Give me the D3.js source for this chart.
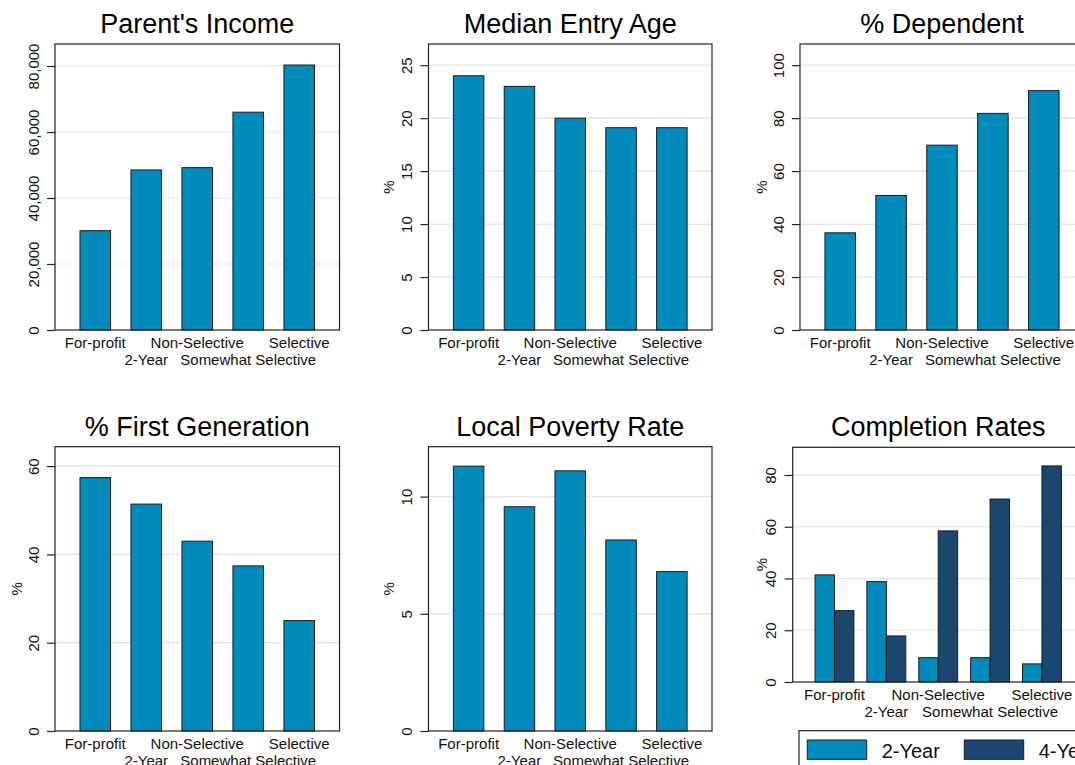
<!DOCTYPE html>
<html>
<head>
<meta charset="UTF-8">
<title>College characteristics by sector</title>
<script src="https://d3js.org/d3.v7.min.js"></script>
<style>
  body { margin: 0; background: #fff; }
  svg text { font-family: "Liberation Sans", Arial, Helvetica, sans-serif; fill: #111; }
</style>
</head>
<body>
<div id="chart"></div>
<script>

// categories on the x axis (labels alternate between two rows)
var categories = ["For-profit", "2-Year", "Non-Selective", "Somewhat Selective", "Selective"];

// values
var parentIncome = [30100, 48500, 49200, 66000, 80300];
var entryAge = [24, 23, 20, 19.1, 19.1];
var pctDependent = [36.7, 50.8, 69.8, 81.8, 90.4];
var pctFirstGen = [57.4, 51.4, 43.0, 37.4, 25.0];
var povertyRate = [11.3, 9.57, 11.1, 8.15, 6.8];
var completion2yr = [41.4, 38.8, 9.4, 9.4, 7.0];
var completion4yr = [27.6, 17.8, 58.4, 70.7, 83.5];

// tick labels
var incomeTicks = [0, 20000, 40000, 60000, 80000];
var ageTicks = [0, 5, 10, 15, 20, 25];
var dependentTicks = [0, 20, 40, 60, 80, 100];
var firstGenTicks = [0, 20, 40, 60];
var povertyTicks = [0, 5, 10];
var completionTicks = [0, 20, 40, 60, 80];

var seriesNames = ["2-Year", "4-Year"];
var seriesColors = ["#008bbc", "#1a476f"];

var panels = [
    { title: "Parent's Income", series: [parentIncome], ticks: incomeTicks, yMax: 86667, fmt: ",", yTitle: null,
      box: { left: 55, top: 44, width: 284.5, height: 286 } },
    { title: "Median Entry Age", series: [entryAge], ticks: ageTicks, yMax: 27, fmt: "d", yTitle: 35,
      box: { left: 428.5, top: 44, width: 283.5, height: 286 } },
    { title: "% Dependent", series: [pctDependent], ticks: dependentTicks, yMax: 108, fmt: "d", yTitle: 33,
      box: { left: 800, top: 44, width: 284, height: 286 } },
    { title: "% First Generation", series: [pctFirstGen], ticks: firstGenTicks, yMax: 64.4, fmt: "d", yTitle: 33,
      box: { left: 55, top: 446.7, width: 284.5, height: 284.3 } },
    { title: "Local Poverty Rate", series: [povertyRate], ticks: povertyTicks, yMax: 12.13, fmt: "d", yTitle: 35,
      box: { left: 428.5, top: 446.7, width: 283.5, height: 284.3 } },
    { title: "Completion Rates", series: [completion2yr, completion4yr], ticks: completionTicks, yMax: 90.7, fmt: "d", yTitle: 26,
      box: { left: 792.7, top: 447.3, width: 291, height: 234.7 } }
];

var svg = d3.select("#chart")
    .append("svg")
    .attr("width", 1075)
    .attr("height", 765);

svg.append("rect").attr("width", 1075).attr("height", 765).attr("fill", "#fff");

panels.forEach(function (p) { drawPanel(p); });

function drawPanel(p) {
    var w = p.box.width, h = p.box.height;
    var g = svg.append("g")
        .attr("transform", "translate(" + p.box.left + "," + p.box.top + ")");

    var grouped = p.series.length > 1;

    var y = d3.scaleLinear().domain([0, p.yMax]).range([h, 0]);
    var x = d3.scaleBand()
        .domain(categories)
        .range([0, w])
        .paddingInner(grouped ? 0.25 : 0.4)
        .paddingOuter(grouped ? 0.43 : 0.49);
    var xs = d3.scaleBand()
        .domain(d3.range(p.series.length))
        .range([0, x.bandwidth()]);

    // gridlines
    g.selectAll(null)
        .data(p.ticks.filter(function (t) { return t > 0; }))
        .enter()
        .append("line")
        .attr("x1", 0)
        .attr("x2", w)
        .attr("y1", function (d) { return y(d); })
        .attr("y2", function (d) { return y(d); })
        .attr("stroke", "#e2e2e2")
        .attr("stroke-width", 1.2);

    // bars
    p.series.forEach(function (s, si) {
        g.selectAll(null)
            .data(s)
            .enter()
            .append("rect")
            .attr("x", function (d, i) { return x(categories[i]) + xs(si); })
            .attr("y", function (d) { return y(d); })
            .attr("width", xs.bandwidth())
            .attr("height", function (d) { return h - y(d); })
            .attr("fill", seriesColors[si])
            .attr("stroke", "#1c1c1c")
            .attr("stroke-width", 1);
    });

    // y axis, labels turned on their side
    var ax = g.append("g")
        .call(d3.axisLeft(y).tickValues(p.ticks).tickSize(8).tickFormat(d3.format(p.fmt)));
    ax.select(".domain").remove();
    ax.selectAll("line").attr("stroke", "#222").attr("stroke-width", 1.2);
    ax.selectAll("text")
        .attr("x", null)
        .attr("dy", null)
        .attr("text-anchor", "middle")
        .attr("transform", "translate(-16.5,0) rotate(-90)")
        .style("font-size", "15px");

    // frame
    g.append("rect")
        .attr("width", w)
        .attr("height", h)
        .attr("fill", "none")
        .attr("stroke", "#222")
        .attr("stroke-width", 1.2);

    // x labels, staggered
    g.selectAll(null)
        .data(categories)
        .enter()
        .append("text")
        .attr("x", function (d) { return x(d) + x.bandwidth() / 2; })
        .attr("y", function (d, i) { return h + (i % 2 ? 35 : 18); })
        .attr("text-anchor", "middle")
        .style("font-size", "15px")
        .text(function (d) { return d; });

    // title
    g.append("text")
        .attr("x", w / 2)
        .attr("y", -11)
        .attr("text-anchor", "middle")
        .style("font-size", "27px")
        .style("fill", "#000")
        .text(p.title);

    if (p.yTitle) {
        g.append("text")
            .attr("transform", "translate(" + (-p.yTitle) + "," + (h / 2) + ") rotate(-90)")
            .attr("text-anchor", "middle")
            .style("font-size", "15px")
            .text("%");
    }

    if (grouped) drawLegend(p);
}

function drawLegend(p) {
    var lg = svg.append("g").attr("transform", "translate(799," + 730.7 + ")");
    lg.append("rect")
        .attr("width", 400)
        .attr("height", 60)
        .attr("fill", "#fff")
        .attr("stroke", "#222")
        .attr("stroke-width", 1.2);
    var item = lg.selectAll(null)
        .data(seriesNames)
        .enter()
        .append("g")
        .attr("transform", function (d, i) { return "translate(" + (8.3 + i * 157) + ",9.3)"; });
    item.append("rect")
        .attr("width", 59.4)
        .attr("height", 19.3)
        .attr("fill", function (d, i) { return seriesColors[i]; })
        .attr("stroke", "#1c1c1c")
        .attr("stroke-width", 1);
    item.append("text")
        .attr("x", 74.4)
        .attr("y", 18)
        .style("font-size", "20px")
        .text(function (d) { return d; });
}

</script>
</body>
</html>
